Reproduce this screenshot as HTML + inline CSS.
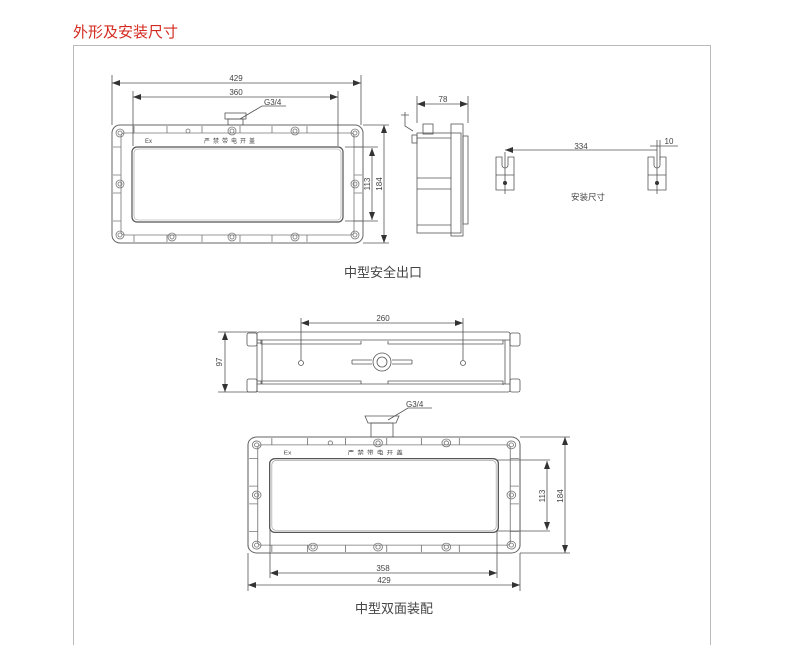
<!DOCTYPE html>
<html><head><meta charset="utf-8"><style>
html,body{margin:0;padding:0;background:#fff;width:787px;height:637px;overflow:hidden}
.t{position:absolute;left:73px;top:21px;color:#d42a20;font:15px "Liberation Sans","Noto Sans CJK SC",sans-serif}
.f{position:absolute;left:73px;top:45px;width:638px;height:600px;border:1px solid #bbb;border-bottom:none;box-sizing:border-box}
svg{position:absolute;left:0;top:0}
text{font-family:"Liberation Sans","Noto Sans CJK SC",sans-serif;fill:#444}
</style></head><body>
<div class="t">外形及安装尺寸</div>
<div class="f"></div>
<svg width="787" height="637" viewBox="0 0 787 637">
<defs>
<marker id="a" markerWidth="8" markerHeight="6" refX="8" refY="3" orient="auto-start-reverse" markerUnits="userSpaceOnUse"><path d="M0,0L8,3L0,6z" fill="#333"/></marker>
<g id="front">
 <rect x="0" y="0" width="251" height="118" rx="8" fill="none" stroke="#666" stroke-width="1"/>
 <rect x="9" y="8" width="233" height="102" rx="3" fill="none" stroke="#777" stroke-width="0.8"/>
 <rect x="20" y="22" width="211" height="75" rx="5" fill="none" stroke="#555" stroke-width="1.2"/>
 <rect x="22" y="24" width="207" height="71" rx="4" fill="none" stroke="#999" stroke-width="0.6"/>
 <g fill="none" stroke="#777" stroke-width="0.8">
  <path d="M22,1v7M55,1v7M90,1v7M128,1v7M160,1v7M195,1v7M22,110v7M55,110v7M90,110v7M128,110v7M160,110v7M195,110v7"/>
  <path d="M1,22h8M1,50h8M1,68h8M1,96h8M242,22h8M242,50h8M242,68h8M242,96h8"/>
  <circle cx="8" cy="8" r="4"/><circle cx="8" cy="8" r="2"/>
  <circle cx="243" cy="8" r="4"/><circle cx="243" cy="8" r="2"/>
  <circle cx="8" cy="110" r="4"/><circle cx="8" cy="110" r="2"/>
  <circle cx="243" cy="110" r="4"/><circle cx="243" cy="110" r="2"/>
  <circle cx="8" cy="59" r="4"/><circle cx="8" cy="59" r="2"/>
  <circle cx="243" cy="59" r="4"/><circle cx="243" cy="59" r="2"/>
  <circle cx="120" cy="6" r="4"/><circle cx="120" cy="6" r="2"/>
  <circle cx="183" cy="6" r="4"/><circle cx="183" cy="6" r="2"/>
  <circle cx="60" cy="112" r="4"/><circle cx="60" cy="112" r="2"/>
  <circle cx="120" cy="112" r="4"/><circle cx="120" cy="112" r="2"/>
  <circle cx="183" cy="112" r="4"/><circle cx="183" cy="112" r="2"/>
  <circle cx="76" cy="6" r="2"/>
 </g>
 <text x="33" y="18" font-size="6">Ex</text>
 <text x="92" y="18" font-size="6" letter-spacing="3">严禁带电开盖</text>
</g>
</defs>

<!-- top front view -->
<g transform="translate(112,125)"><use href="#front"/></g>
<g stroke="#555" stroke-width="0.8" fill="none">
 <path d="M112,75v50M361,75v50M133,91v55M338,91v55"/>
 <line x1="112" y1="83" x2="361" y2="83" marker-start="url(#a)" marker-end="url(#a)"/>
 <line x1="133" y1="97" x2="338" y2="97" marker-start="url(#a)" marker-end="url(#a)"/>
 <path d="M345,147h33M345,221h33M363,125h26M363,243h26"/>
 <line x1="372" y1="148" x2="372" y2="220" marker-start="url(#a)" marker-end="url(#a)"/>
 <line x1="384" y1="125" x2="384" y2="243" marker-start="url(#a)" marker-end="url(#a)"/>
 <path d="M240,119L262,106h24"/>
 <rect x="225" y="113" width="21" height="6"/><rect x="228" y="119" width="15" height="6"/>
</g>
<text x="236" y="81" font-size="8" text-anchor="middle">429</text>
<text x="236" y="95" font-size="8" text-anchor="middle">360</text>
<text x="264" y="105" font-size="8">G3/4</text>
<text x="370" y="184" font-size="8" text-anchor="middle" transform="rotate(-90 370 184)">113</text>
<text x="382" y="184" font-size="8" text-anchor="middle" transform="rotate(-90 382 184)">184</text>

<!-- side view -->
<g stroke="#555" stroke-width="0.8" fill="none">
 <rect x="417" y="133" width="44" height="100"/>
 <rect x="451" y="124" width="12" height="112"/>
 <rect x="463" y="136" width="5" height="88"/>
 <rect x="423" y="124" width="10" height="10"/>
 <path d="M417,178h34M417,189h34M417,225h34M417,138h34"/>
 <path d="M405,112v14l8,5M401,115h8"/>
 <rect x="412" y="135" width="5" height="8"/>
 <path d="M417,96v27M468,96v27"/>
 <line x1="417" y1="104" x2="468" y2="104" marker-start="url(#a)" marker-end="url(#a)"/>
</g>
<text x="443" y="102" font-size="8" text-anchor="middle">78</text>

<!-- brackets -->
<g stroke="#555" stroke-width="0.8" fill="none">
 <path d="M496,157h6v8a3,3 0 0 0 6,0v-8h6v33h-18z"/>
 <path d="M496,175h18M505,152v42"/>
 <path d="M648,157h6v8a3,3 0 0 0 6,0v-8h6v33h-18z"/>
 <path d="M648,175h18M657,140v54M660,140v20"/>
 <line x1="505" y1="150" x2="657" y2="150" marker-start="url(#a)"/>
 <path d="M650,146h10M660,146h18"/>
</g>
<circle cx="505" cy="183" r="2" fill="#333"/><circle cx="657" cy="183" r="2" fill="#333"/>
<text x="581" y="149" font-size="8" text-anchor="middle">334</text>
<text x="669" y="144" font-size="8" text-anchor="middle">10</text>
<text x="588" y="200" font-size="8.5" text-anchor="middle">安装尺寸</text>
<text x="383" y="277" font-size="13" text-anchor="middle" fill="#222">中型安全出口</text>

<!-- middle top view -->
<g stroke="#555" stroke-width="0.8" fill="none">
 <rect x="257" y="332" width="253" height="60" rx="2"/>
 <path d="M257,340h253M257,384h253M262,340v44M505,340v44"/>
 <rect x="247" y="333" width="10" height="13" rx="2"/><rect x="247" y="379" width="10" height="13" rx="2"/>
 <rect x="510" y="333" width="10" height="13" rx="2"/><rect x="510" y="379" width="10" height="13" rx="2"/>
 <path d="M257,343h4M261,340v4h100v-3M388,341v3h115v-4M257,381h4M261,384v-3h100v3M388,384v-3h115v4"/>
 <circle cx="382" cy="362" r="9"/><circle cx="382" cy="362" r="5"/>
 <path d="M352,360h20M352,364h20M392,360h20M392,364h20M352,360v4M412,360v4"/>
 <circle cx="301" cy="363" r="2.5"/><circle cx="463" cy="363" r="2.5"/>
 <path d="M301,318v42M463,318v42M218,332h39M218,392h39"/>
 <line x1="301" y1="323" x2="463" y2="323" marker-start="url(#a)" marker-end="url(#a)"/>
 <line x1="225" y1="332" x2="225" y2="392" marker-start="url(#a)" marker-end="url(#a)"/>
</g>
<text x="383" y="321" font-size="8" text-anchor="middle">260</text>
<text x="222" y="362" font-size="8" text-anchor="middle" transform="rotate(-90 222 362)">97</text>

<!-- bottom front view -->
<g transform="translate(248,437) scale(1.0837,0.983)"><use href="#front"/></g>
<g stroke="#555" stroke-width="0.8" fill="none">
 <path d="M365,416h34l-3,7h-28z"/><rect x="371" y="423" width="22" height="14"/>
 <path d="M388,420L408,408h24"/>
 <path d="M248,553v38M520,553v38M270,530v48M497,530v48"/>
 <line x1="270" y1="573" x2="497" y2="573" marker-start="url(#a)" marker-end="url(#a)"/>
 <line x1="248" y1="585" x2="520" y2="585" marker-start="url(#a)" marker-end="url(#a)"/>
 <path d="M497,460h53M497,531h53M520,437h50M520,553h50"/>
 <line x1="547" y1="461" x2="547" y2="530" marker-start="url(#a)" marker-end="url(#a)"/>
 <line x1="565" y1="437" x2="565" y2="553" marker-start="url(#a)" marker-end="url(#a)"/>
</g>
<text x="406" y="407" font-size="8">G3/4</text>
<text x="383" y="571" font-size="8" text-anchor="middle">358</text>
<text x="384" y="583" font-size="8" text-anchor="middle">429</text>
<text x="545" y="496" font-size="8" text-anchor="middle" transform="rotate(-90 545 496)">113</text>
<text x="563" y="496" font-size="8" text-anchor="middle" transform="rotate(-90 563 496)">184</text>
<text x="394" y="613" font-size="13" text-anchor="middle" fill="#222">中型双面装配</text>
</svg>
</body></html>
